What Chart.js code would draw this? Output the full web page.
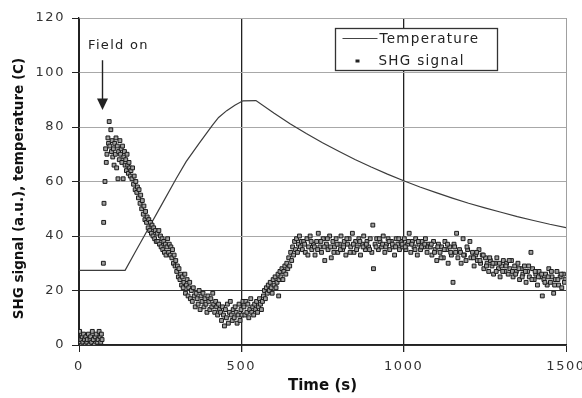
<!DOCTYPE html>
<html lang="en">
<head>
<meta charset="UTF-8" />
<title>SHG signal and temperature</title>
<style>
  html, body { margin: 0; padding: 0; background: #fff; }
  #chart { display: block; }
</style>
</head>
<body>
<canvas id="chart" width="582" height="398"></canvas>
<script src="https://cdn.jsdelivr.net/npm/chart.js@4/dist/chart.umd.min.js"></script>
<script>
// axis ticks and labels
const xTicks = [0, 500, 1000, 1500];
const xTitle = 'Time (s)';
const yTitle = 'SHG signal (a.u.), temperature (C)';
const seriesNames = ['Temperature', 'SHG signal'];
const fieldLabel = 'Field on';
const fieldTime = 70;

// temperature trace (s, C)
const tempTime = [0, 142, 175, 200, 250, 300, 330, 370, 410, 430, 455, 480, 505, 545,
  600, 650, 700, 750, 800, 850, 900, 950, 1000, 1050, 1100, 1150, 1200, 1250, 1300, 1350, 1400, 1450, 1500];
const tempValue = [27.4, 27.4, 34.5, 39.8, 50.5, 61.2, 67.3, 74, 80.5, 83.5, 86, 88, 89.6, 89.7,
  85.1, 81.2, 77.6, 74.2, 71.1, 68.1, 65.3, 62.7, 60.3, 58.0, 55.9, 53.9, 52.0, 50.3, 48.7, 47.1, 45.7, 44.3, 43.1];

// SHG signal samples [time, signal]
const shgBefore = [[2,5],[4,1],[6,2],[8,0],[10,3],[12,1],[14,4],[17,2],[19,0],[21,3],[24,1],[26,2],[29,4],[31,0],
  [34,2],[36,3],[39,1],[41,5],[44,2],[47,0],[50,3],[53,4],[56,1],[59,2],[62,5],[65,3],[67,1],[69,4],[71,2]];
const shgRise = [[75,30],[76,45],[77,52],[80,60],[82,72],[84,67],[86,70],[89,76],[91,74],[93,82],[95,73],[98,79],
  [100,71],[102,75],[104,69],[106,72],[108,66],[110,74],[112,70],[114,76],[116,65],[118,73],[120,61],[122,71],
  [124,68],[126,75],[128,70],[130,72],[132,67],[134,73],[136,61],[138,69],[140,71],[142,66],[144,68],[146,64],
  [148,70],[150,66],[152,63],[154,67],[156,65],[158,62]];
const shgDecay = [[160,64],[163,61],[165,65],[168,59],[170,62],[173,57],[175,60],[178,56],[180,58],[183,54],
  [185,57],[188,52],[190,55],[193,50],[195,53],[198,48],[200,51],[203,46],[205,49],[208,45],[210,47],[213,43],
  [215,46],[218,42],[220,45],[223,41],[225,44],[228,40],[230,43],[233,39],[235,42],[238,38],
  [241,41],[243,38],[246,42],[248,37],[251,40],[253,36],[256,39],[258,35],[261,38],[263,34],[266,37],[268,33],
  [271,36],[273,39],[276,34],[278,37],[281,33],[283,36],[286,32],[288,35],[291,30],[293,33],[296,29],[298,31],
  [301,27],[303,29],[306,25],[308,28],[311,24],[313,26],[316,22],[318,25],[321,21],[323,23],[326,26],[328,19],
  [331,22],[333,24],[336,18],[338,21],[341,23],[343,17]];
const shgLow = [[346,20],[349,16],[352,21],[355,18],[358,14],[361,19],[364,17],[367,15],[370,20],[373,13],
  [376,18],[379,16],[382,19],[385,14],[388,17],[391,15],[394,12],[397,18],[400,16],[403,13],[406,17],[409,14],
  [412,19],[415,15],[418,12],[421,16],[424,14],[427,11],[430,15],[433,13],
  [436,12],[439,9],[442,14],[445,11],[448,7],[451,13],[454,10],[457,15],[460,8],[463,12],[466,16],[469,11],
  [472,9],[475,13],[478,10],[481,14],[484,12],[487,8],[490,11],[493,15],[496,9],[499,13],[502,11],[505,16],
  [508,14],[511,11],[514,16],[517,12],[520,15],[523,10],[526,13],[529,17],[532,12],[535,14],[538,11],[541,15],
  [544,13],[547,16],[550,12],[553,14],[556,17],[559,15],[562,13],[565,16]];
const shgRecover = [[568,18],[571,20],[574,17],[577,21],[580,19],[583,22],[586,20],[589,23],[592,21],[595,19],
  [598,24],[601,22],[604,25],[607,21],[610,23],[613,26],[615,18],[616,24],[619,27],
  [622,25],[625,28],[628,24],[631,27],[634,29],[637,26],[640,30],[643,28],[646,32],[649,29],[652,34],[655,31],
  [658,36],[661,33],[664,38],[667,35],[670,39],[673,34],[676,37],[679,40],[682,36],[685,38],[688,35]];
const shgPlateau = [[692,38],[697,34],[702,39],[707,36],[712,40],[717,35],[722,37],[727,33],[732,38],[737,41],
  [742,36],[747,34],[752,39],[757,31],[762,37],[767,35],[772,40],[777,32],[782,38],[787,36],[792,39],[797,34],
  [802,37],[807,40],[812,35],[817,38],[822,33],[827,37],[832,39],[837,36],[842,41],[847,34],[852,38],[857,36],
  [862,39],[867,33],[872,37],[877,40],[882,35],[887,38],[892,36],[897,39],[902,34],[905,44],[907,28],[912,37],
  [917,39],[922,35],[927,38],[932,36],[937,40],[942,34],[947,37],[952,39],[957,35],[962,38],[967,36],[972,33],
  [977,39],[982,37],[987,35],[992,38],[997,36],[1002,39],[1007,35],[1012,37],[1017,41],[1022,34],[1027,38],
  [1032,36],[1037,39],[1042,33],[1047,37],[1052,35],[1057,38],[1062,36],[1067,39],[1072,34],[1077,37],
  [695,37],[705,33],[715,38],[725,36],[735,35],[745,38],[755,36],[765,39],[775,36],[785,34],[795,37],[805,35],
  [815,36],[825,39],[835,34],[845,37],[855,35],[865,38],[875,36],[885,37],[895,35],[915,36],[925,39],[935,37],
  [945,36],[955,38],[965,37],[975,36],[985,39],[995,37],[1005,36],[1015,38],[1025,37],[1035,35],[1045,38],
  [1055,36],[1065,37],[1075,36]];
const shgTail = [[1082,36],[1087,33],[1092,38],[1097,35],[1102,31],[1107,37],[1112,34],[1117,36],[1122,32],
  [1127,38],[1132,35],[1137,30],[1142,36],[1147,33],[1152,23],[1155,37],[1160,34],[1163,41],[1167,32],[1172,35],
  [1177,30],[1183,39],[1187,33],[1192,31],[1197,35],[1204,38],[1207,32],[1212,34],[1217,29],[1222,33],[1227,31],
  [1232,35],[1237,30],[1242,33],[1247,28],[1252,32],[1257,30],[1262,27],[1267,31],[1272,29],[1277,26],[1282,30],
  [1287,32],[1292,28],[1297,25],[1302,29],[1307,31],[1312,27],[1317,30],[1322,26],[1327,28],[1332,31],[1337,25],
  [1342,29],[1347,27],[1352,30],[1357,24],[1362,28],[1367,26],[1372,29],[1377,23],[1382,27],[1387,25],[1392,34],
  [1397,28],[1402,24],[1407,26],[1412,22],[1417,27],[1422,25],[1427,18],[1432,24],[1437,26],[1442,22],[1447,28],
  [1452,23],[1457,25],[1462,19],[1467,24],[1472,27],[1477,22],[1482,25],[1487,21],[1492,26],[1497,24],
  [1085,37],[1095,34],[1105,36],[1115,32],[1125,35],[1135,37],[1145,34],[1157,36],[1175,34],[1185,33],[1195,36],
  [1215,32],[1225,34],[1235,31],[1245,33],[1255,29],[1265,32],[1275,30],[1285,27],[1295,30],[1305,27],[1315,29],
  [1325,31],[1335,27],[1345,26],[1355,28],[1365,25],[1375,27],[1385,29],[1395,24],[1405,27],[1415,25],[1425,26],
  [1435,23],[1445,25],[1455,27],[1465,22],[1475,24],[1485,26],[1495,23]];

const shgPoints = [...shgBefore, ...shgRise, ...shgDecay, ...shgLow, ...shgRecover, ...shgPlateau, ...shgTail]
  .map(p => ({ x: p[0], y: p[1] }));
const tempPoints = tempTime.map((t, i) => ({ x: t, y: tempValue[i] }));

const FONT = '"DejaVu Sans", Verdana, sans-serif';
const INK = '#222';

// titles drawn plain, tick labels (drawn after datasets, z:1) get the wide Verdana-like spacing
const spacing = {
  id: 'spacing',
  beforeDraw(chart) { chart.ctx.letterSpacing = '0px'; },
  afterDatasetsDraw(chart) { chart.ctx.letterSpacing = '1.6px'; }
};

// legend box, "Field on" label and arrow
const notes = {
  id: 'notes',
  afterDraw(chart) {
    const { ctx, chartArea, scales: { x, y } } = chart;
    ctx.save();
    ctx.letterSpacing = '1.3px';
    ctx.fillStyle = INK;
    ctx.strokeStyle = INK;
    ctx.textBaseline = 'middle';
    ctx.font = '13px ' + FONT;
    ctx.fillText(fieldLabel, x.getPixelForValue(28), y.getPixelForValue(110));

    const ax = Math.round(x.getPixelForValue(fieldTime)) + 0.5;
    ctx.lineWidth = 1.4;
    ctx.beginPath();
    ctx.moveTo(ax, y.getPixelForValue(104.5));
    ctx.lineTo(ax, y.getPixelForValue(90));
    ctx.stroke();
    ctx.beginPath();
    ctx.moveTo(ax - 5.5, y.getPixelForValue(90.5));
    ctx.lineTo(ax + 5.5, y.getPixelForValue(90.5));
    ctx.lineTo(ax, y.getPixelForValue(86.2));
    ctx.closePath();
    ctx.fill();

    // legend
    const bx = chartArea.left + 256.5, by = chartArea.top + 10.5, bw = 162, bh = 42;
    ctx.fillStyle = '#fff';
    ctx.fillRect(bx, by, bw, bh);
    ctx.lineWidth = 1.3;
    ctx.strokeStyle = '#333';
    ctx.strokeRect(bx, by, bw, bh);

    ctx.strokeStyle = '#444';
    ctx.lineWidth = 1.2;
    ctx.beginPath();
    ctx.moveTo(bx + 7, by + 10);
    ctx.lineTo(bx + 42, by + 10);
    ctx.stroke();
    ctx.fillStyle = INK;
    ctx.font = '13.5px ' + FONT;
    ctx.fillText(seriesNames[0], bx + 44, by + 11);
    ctx.fillRect(bx + 20, by + 31, 4, 3);
    ctx.fillText(seriesNames[1], bx + 43, by + 33);
    ctx.restore();
    ctx.letterSpacing = '0px';
  }
};

new Chart(document.getElementById('chart'), {
  type: 'scatter',
  data: {
    datasets: [
      {
        label: seriesNames[1],
        data: shgPoints,
        pointStyle: 'rect',
        pointRadius: 2.7,
        borderWidth: 1,
        borderColor: '#1a1a1a',
        backgroundColor: '#a0a0a0'
      },
      {
        label: seriesNames[0],
        data: tempPoints,
        showLine: true,
        borderColor: '#3c3c3c',
        borderWidth: 1.2,
        pointRadius: 0,
        tension: 0
      }
    ]
  },
  options: {
    responsive: false,
    animation: false,
    events: [],
    layout: { padding: { top: 18, right: 16, left: 0, bottom: 0 } },
    plugins: { legend: { display: false }, tooltip: { enabled: false } },
    scales: {
      x: {
        type: 'linear', min: 0, max: 1500,
        afterBuildTicks(s) { s.ticks = xTicks.map(v => ({ value: v })); },
        afterFit(s) { s.height = 53; s.paddingLeft = 0; s.paddingRight = 0; },
        ticks: { z: 1, color: '#333', font: { family: FONT, size: 13 }, padding: 7, maxRotation: 0, autoSkip: false,
          callback: v => String(v) },
        grid: {
          color: c => (c.tick && c.tick.value === 1500) ? '#a0a0a0' : '#222',
          lineWidth: c => (c.tick && (c.tick.value === 500 || c.tick.value === 1000)) ? 1.3 : 1,
          tickColor: '#222', tickLength: 7
        },
        border: { color: '#222', width: 1.3 },
        title: { display: true, text: xTitle, color: '#111', font: { family: FONT, size: 15, weight: 'bold' }, padding: { top: 0, bottom: 3 } }
      },
      y: {
        min: 0, max: 120,
        afterFit(s) { s.width = 79; },
        ticks: { z: 1, stepSize: 20, color: '#333', font: { family: FONT, size: 13 }, padding: 7, callback: v => String(v) },
        grid: {
          color: c => (c.tick && (c.tick.value === 20 || c.tick.value === 0)) ? '#333' : '#a8a8a8',
          tickColor: '#222', tickLength: 7
        },
        border: { color: '#222', width: 1.3 },
        title: { display: true, text: yTitle + '   ', color: '#111', font: { family: FONT, size: 13.5, weight: 'bold' }, padding: { top: 11, bottom: 0 } }
      }
    }
  },
  plugins: [spacing, notes]
});
</script>
</body>
</html>
